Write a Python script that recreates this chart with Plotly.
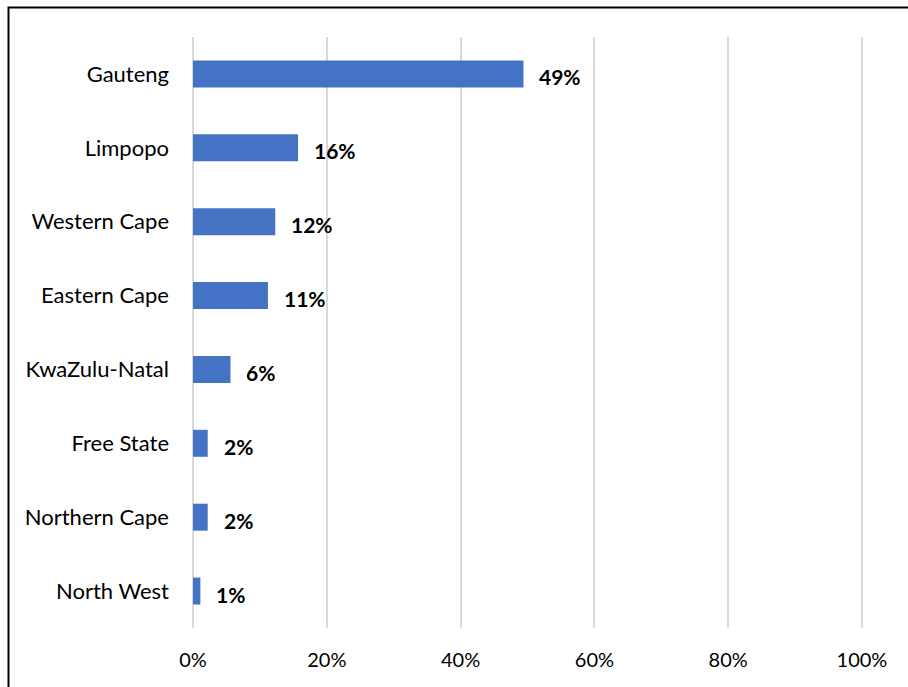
import plotly.graph_objects as go

# Share of respondents by province (%)
provinces = ["Gauteng", "Limpopo", "Western Cape", "Eastern Cape",
             "KwaZulu-Natal", "Free State", "Northern Cape", "North West"]
shares = [49.4, 15.7, 12.3, 11.2, 5.6, 2.2, 2.2, 1.1]
x_ticks = [0, 20, 40, 60, 80, 100]
x_tick_labels = ["0%", "20%", "40%", "60%", "80%", "100%"]

BAR_COLOR = "#4472C4"
GRID_COLOR = "#D9D9D9"
FONT = "Lato, 'Open Sans', sans-serif"

W, H = 908, 687
ML, MR, MT, MB = 191, 44, 37, 59
plot_w = W - ML - MR
plot_h = H - MT - MB
X_RANGE = [-0.3, 100.3]

fig = go.Figure(
    go.Bar(
        x=shares,
        y=provinces,
        orientation="h",
        marker=dict(color=BAR_COLOR, line=dict(width=0)),
        hoverinfo="skip",
    )
)

# bold value labels to the right of each bar
for name, val in zip(provinces, shares):
    fig.add_annotation(
        x=val, y=name, xref="x", yref="y",
        text=f"<b>{val:.0f}%</b>",
        showarrow=False, xanchor="left", yanchor="middle",
        xshift=14, yshift=-3,
        font=dict(family=FONT, size=21, color="#000000"),
    )

# chart frame (left and top edges visible)
def px_to_paper_x(px):
    return (px - ML) / plot_w

def px_to_paper_y(py):
    return (H - MB - py) / plot_h

fig.add_shape(
    type="rect", xref="paper", yref="paper",
    x0=px_to_paper_x(8.5), x1=px_to_paper_x(W + 20),
    y0=px_to_paper_y(H + 20), y1=px_to_paper_y(7.5),
    line=dict(color="#000000", width=2), fillcolor="rgba(0,0,0,0)",
    layer="above",
)

fig.update_layout(
    width=W, height=H,
    margin=dict(l=ML, r=MR, t=MT, b=MB, pad=0),
    paper_bgcolor="white", plot_bgcolor="white",
    bargap=0.635,
    showlegend=False,
    font=dict(family=FONT, size=20, color="#000000"),
)

fig.update_xaxes(
    range=X_RANGE,
    tickvals=x_ticks, ticktext=x_tick_labels,
    showgrid=True, gridcolor=GRID_COLOR, gridwidth=1.5,
    zeroline=True, zerolinecolor=GRID_COLOR, zerolinewidth=1.5,
    showline=False, ticks="",
    ticklabelstandoff=18,
    tickfont=dict(family=FONT, size=20, color="#000000"),
    fixedrange=True,
)
fig.update_yaxes(
    categoryorder="array", categoryarray=provinces[::-1],
    showgrid=False, zeroline=False, showline=False, ticks="",
    ticklabelstandoff=21,
    tickfont=dict(family=FONT, size=22, color="#000000"),
    fixedrange=True,
)

fig.write_html("out.html", config={"displayModeBar": False})
